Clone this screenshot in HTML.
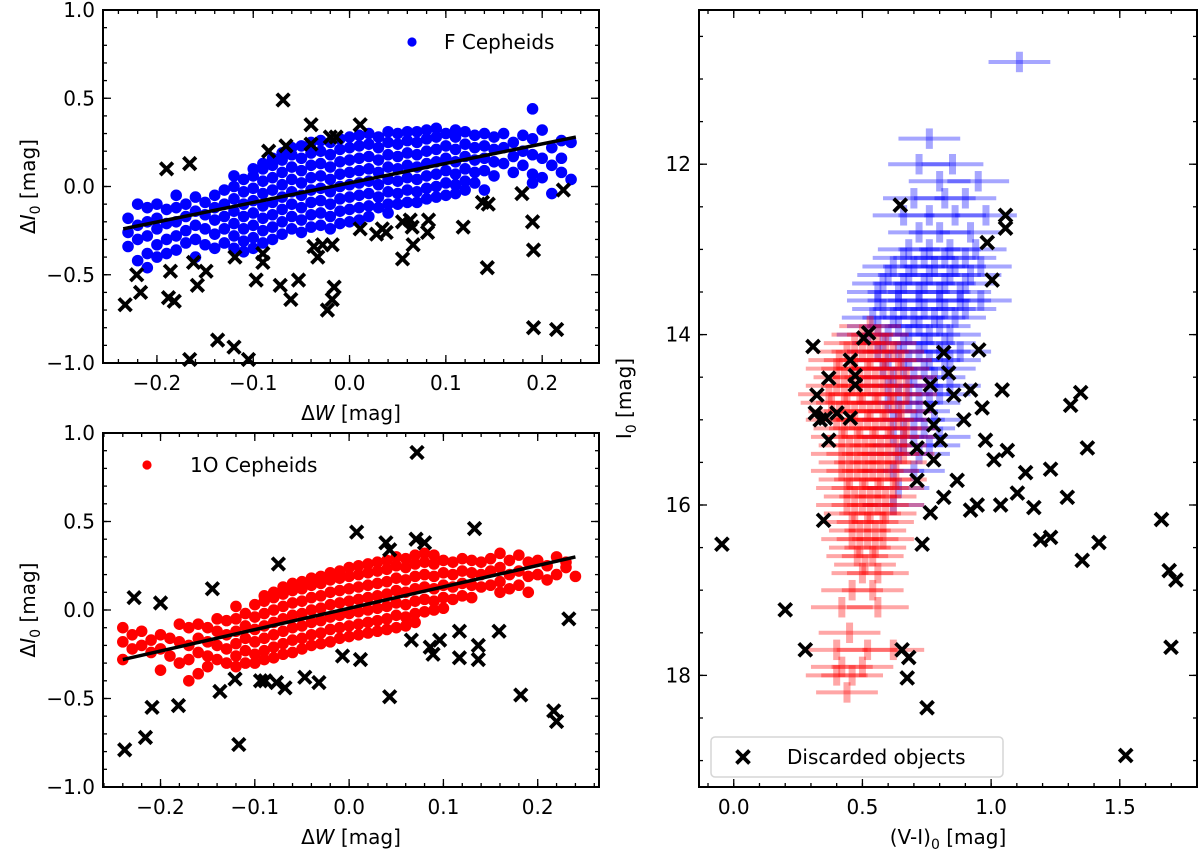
<!DOCTYPE html>
<html><head><meta charset="utf-8"><style>
html,body{margin:0;padding:0;background:#fff;}
svg{display:block;font-family:"DejaVu Sans","Liberation Sans",sans-serif;}
</style></head><body>
<svg id="chart" width="1200" height="854" viewBox="0 0 1200 854" xmlns="http://www.w3.org/2000/svg"></svg>
<script>
// ---------- Panel A: F Cepheids ----------
const fColX = [-0.23,-0.22,-0.21,-0.20,-0.19,-0.18,-0.17,-0.16,-0.15,-0.14,-0.13,-0.12,-0.11,-0.10,-0.09,-0.08,-0.07,-0.06,-0.05,-0.04,-0.03,-0.02,-0.01,0.00,0.01,0.02,0.03,0.04,0.05,0.06,0.07,0.08,0.09,0.10,0.11,0.12,0.13,0.14,0.15,0.16,0.17,0.18,0.19,0.20,0.21,0.22,0.23];
const fColY = [
[-0.18,-0.26,-0.34],[-0.10,-0.22,-0.30,-0.42],[-0.12,-0.20,-0.28,-0.38,-0.46],[-0.10,-0.18,-0.24,-0.33,-0.40],
[-0.13,-0.21,-0.30,-0.38],[-0.05,-0.12,-0.20,-0.28,-0.36],[-0.10,-0.17,-0.25,-0.32],[-0.06,-0.14,-0.22,-0.30,-0.40],
[-0.09,-0.16,-0.24,-0.33],[-0.05,-0.12,-0.19,-0.27,-0.35],[-0.02,-0.10,-0.17,-0.24,-0.32],[0.06,0.00,-0.07,-0.14,-0.21,-0.28,-0.35],
[0.04,-0.03,-0.10,-0.17,-0.24,-0.31,-0.37],[0.10,0.06,-0.01,-0.08,-0.15,-0.22,-0.29,-0.35],[0.13,0.10,0.03,-0.04,-0.11,-0.18,-0.25,-0.32],
[0.16,0.12,0.05,-0.02,-0.09,-0.16,-0.23,-0.30],[0.19,0.15,0.08,0.01,-0.06,-0.13,-0.20,-0.27],[0.22,0.18,0.11,0.04,-0.03,-0.10,-0.17,-0.24],
[0.23,0.16,0.09,0.02,-0.05,-0.12,-0.19,-0.26],[0.25,0.19,0.12,0.05,-0.02,-0.09,-0.16,-0.23],[0.26,0.20,0.13,0.06,-0.01,-0.08,-0.15,-0.22],
[0.25,0.18,0.11,0.04,-0.03,-0.10,-0.17,-0.24],[0.27,0.21,0.14,0.07,0.00,-0.07,-0.14,-0.21],[0.28,0.22,0.15,0.08,0.01,-0.06,-0.13,-0.20],
[0.29,0.23,0.16,0.09,0.02,-0.05,-0.12,-0.19],[0.30,0.24,0.17,0.10,0.03,-0.04,-0.11,-0.17],[0.28,0.22,0.15,0.08,0.01,-0.06,-0.12],
[0.31,0.25,0.18,0.11,0.04,-0.03,-0.10,-0.15],[0.30,0.24,0.17,0.10,0.03,-0.04,-0.10],[0.31,0.26,0.19,0.12,0.05,-0.02,-0.09],
[0.31,0.25,0.18,0.11,0.04,-0.03,-0.09],[0.32,0.27,0.20,0.13,0.06,-0.01,-0.07],[0.33,0.28,0.21,0.14,0.07,0.00,-0.06],[0.30,0.23,0.16,0.09,0.02,-0.05],
[0.32,0.28,0.21,0.14,0.07,0.01,-0.04],[0.31,0.24,0.17,0.10,0.03,-0.02],[0.29,0.22,0.15,0.08,0.02],[0.30,0.23,0.16,0.09,-0.02],
[0.28,0.21,0.14,0.06],[0.30,0.22,0.13],[0.25,0.17,0.08],[0.29,0.20,0.12],[0.27,0.18,0.07,0.02,0.44],
[0.32,0.16,0.05],[0.22,0.12,-0.04],[0.26,0.16,0.08],[0.25,0.04]];
const fFitX = [-0.235, 0.235];
const fFitY = [-0.24, 0.28];
const fBadX = [-0.233,-0.221,-0.217,-0.190,-0.166,-0.186,-0.188,-0.182,-0.162,-0.158,-0.149,-0.137,-0.120,-0.105,-0.166,-0.119,-0.097,-0.090,-0.090,-0.084,-0.072,-0.069,-0.066,-0.061,-0.053,-0.040,-0.040,-0.037,-0.033,-0.028,-0.018,-0.023,-0.018,-0.016,-0.020,-0.014,0.011,0.011,0.028,0.034,0.038,0.055,0.055,0.063,0.065,0.066,0.082,0.081,0.118,0.138,0.144,0.143,0.179,0.190,0.191,0.191,0.215,0.222];
const fBadY = [-0.67,-0.50,-0.60,0.10,0.13,-0.48,-0.63,-0.65,-0.43,-0.56,-0.48,-0.87,-0.91,-0.98,-0.98,-0.40,-0.53,-0.38,-0.43,0.20,-0.56,0.49,0.23,-0.64,-0.53,0.35,0.24,-0.34,-0.40,-0.33,-0.33,-0.70,-0.64,-0.57,0.28,0.28,0.35,-0.24,-0.27,-0.24,-0.26,-0.41,-0.20,-0.19,-0.23,-0.33,-0.19,-0.26,-0.23,-0.09,-0.10,-0.46,-0.04,-0.20,-0.36,-0.80,-0.81,-0.02];

// ---------- Panel B: 1O Cepheids ----------
const oColX = [-0.24,-0.23,-0.22,-0.21,-0.20,-0.19,-0.18,-0.17,-0.16,-0.15,-0.14,-0.13,-0.12,-0.11,-0.10,-0.09,-0.08,-0.07,-0.06,-0.05,-0.04,-0.03,-0.02,-0.01,0.00,0.01,0.02,0.03,0.04,0.05,0.06,0.07,0.08,0.09,0.10,0.11,0.12,0.13,0.14,0.15,0.16,0.17,0.18,0.19,0.20,0.21,0.22,0.23,0.24];
const oColY = [
[-0.10,-0.18,-0.28],[-0.14,-0.22],[-0.20,-0.12],[-0.17,-0.24],[-0.14,-0.22,-0.34],[-0.16,-0.26],[-0.08,-0.18,-0.30],
[-0.10,-0.20,-0.28,-0.40],[-0.08,-0.16,-0.24,-0.36],[-0.10,-0.18,-0.26,-0.32],[-0.05,-0.12,-0.20,-0.28],
[-0.06,-0.14,-0.22,-0.30],[0.02,-0.05,-0.12,-0.19,-0.26,-0.32],[-0.02,-0.09,-0.16,-0.23,-0.30],[0.03,-0.04,-0.11,-0.18,-0.25,-0.30],
[0.08,0.05,-0.02,-0.09,-0.16,-0.23,-0.28],[0.10,0.07,0.00,-0.07,-0.14,-0.21,-0.27],[0.13,0.09,0.02,-0.05,-0.12,-0.19,-0.25],[0.15,0.11,0.04,-0.03,-0.10,-0.17,-0.24],
[0.16,0.12,0.05,-0.02,-0.09,-0.16,-0.22],[0.18,0.14,0.07,0.00,-0.07,-0.14,-0.20],[0.19,0.15,0.08,0.01,-0.06,-0.13,-0.19],[0.21,0.17,0.10,0.03,-0.04,-0.11,-0.18],
[0.22,0.18,0.11,0.04,-0.03,-0.10,-0.16],[0.24,0.19,0.12,0.05,-0.02,-0.09,-0.15],[0.25,0.20,0.13,0.06,-0.01,-0.08,-0.14],[0.26,0.21,0.14,0.07,0.00,-0.07,-0.13],
[0.27,0.22,0.15,0.08,0.01,-0.06,-0.12],[0.28,0.23,0.16,0.09,0.02,-0.05,-0.11],[0.30,0.25,0.18,0.11,0.04,-0.03,-0.10],[0.29,0.24,0.17,0.10,0.03,-0.04,-0.09],
[0.31,0.26,0.19,0.12,0.05,-0.02,-0.07],[0.32,0.27,0.20,0.13,0.06,-0.01],[0.31,0.26,0.19,0.12,0.05,0.00],[0.28,0.21,0.14,0.07,0.01],[0.27,0.20,0.13,0.06],
[0.29,0.22,0.15,0.08],[0.28,0.21,0.14,0.07],[0.27,0.20,0.13],[0.29,0.22,0.14],[0.32,0.24,0.16,0.10],[0.28,0.20,0.12],
[0.31,0.22,0.14],[0.27,0.19,0.10],[0.28,0.20],[0.25,0.17],[0.30,0.20],[0.27,0.24],[0.19]];
const oFitX = [-0.24, 0.24];
const oFitY = [-0.28, 0.30];
const oBadX = [-0.238,-0.216,-0.209,-0.181,-0.228,-0.200,-0.145,-0.137,-0.121,-0.117,-0.094,-0.089,-0.077,-0.068,-0.075,-0.047,-0.032,-0.007,0.008,0.012,0.039,0.043,0.043,0.066,0.071,0.072,0.080,0.086,0.089,0.096,0.117,0.117,0.133,0.137,0.137,0.159,0.182,0.217,0.220,0.233];
const oBadY = [-0.79,-0.72,-0.55,-0.54,0.07,0.04,0.12,-0.46,-0.39,-0.76,-0.40,-0.40,-0.41,-0.44,0.26,-0.38,-0.41,-0.26,0.44,-0.28,0.38,0.34,-0.49,-0.17,0.40,0.89,0.38,-0.21,-0.25,-0.17,-0.12,-0.27,0.46,-0.20,-0.28,-0.12,-0.48,-0.57,-0.63,-0.05];

// ---------- Panel C: CMD ----------
const bRowI = [10.8,11.7,12.0,12.2,12.4,12.6,12.8,13.0,13.1,13.2,13.3,13.4,13.5,13.6,13.7,13.8,13.9,14.0,14.1,14.2,14.3,14.4,14.5,14.6,14.7,14.8,14.9,15.0,15.1,15.2,15.3,15.4,15.6,15.8,16.0];
const bRowX = [[1.11],[0.76],[0.72,0.85],[0.80,0.95],[0.70,0.82,0.90],[0.66,0.76,0.86,0.98],[0.72,0.80,0.92],[0.68,0.76,0.84,0.94],
[0.66,0.74,0.82,0.90],[0.62,0.70,0.78,0.86,0.96],[0.60,0.68,0.76,0.84,0.92],[0.58,0.66,0.74,0.82,0.90],[0.56,0.64,0.72,0.80,0.88],
[0.56,0.64,0.72,0.80,0.88,0.96],[0.58,0.66,0.74,0.82,0.90],[0.54,0.62,0.70,0.78,0.86],[0.56,0.64,0.72,0.80],
[0.52,0.60,0.68,0.76,0.84],[0.58,0.66,0.74,0.82],[0.56,0.64,0.72,0.80,0.88],[0.60,0.68,0.76,0.84],[0.58,0.66,0.74,0.82],
[0.62,0.70,0.78],[0.60,0.68,0.76,0.84],[0.64,0.72,0.80],[0.60,0.68,0.76],[0.64,0.72],
[0.62,0.70,0.78],[0.66,0.74],[0.62,0.70,0.80],[0.66,0.76],[0.64,0.72],[0.62,0.70],[0.64],[0.62]];
const rRowI = [13.9,14.0,14.1,14.2,14.3,14.4,14.5,14.6,14.7,14.8,14.9,15.0,15.1,15.2,15.3,15.4,15.5,15.6,15.7,15.8,15.9,16.0,16.1,16.2,16.3,16.4,16.5,16.6,16.7,16.8,17.0,17.2,17.5,17.7,17.9,18.0,18.2];
const rRowX = [[0.53],[0.50,0.56],[0.47,0.53,0.59],[0.44,0.50,0.56,0.62],[0.41,0.47,0.53,0.59,0.65],[0.40,0.46,0.52,0.58,0.64],[0.43,0.49,0.55,0.61,0.67],
[0.40,0.46,0.52,0.58,0.64],[0.37,0.43,0.49,0.55,0.61,0.67],[0.38,0.44,0.50,0.56,0.62],[0.41,0.47,0.53,0.59,0.65],
[0.40,0.46,0.52,0.58,0.64],[0.43,0.49,0.55,0.61,0.67],[0.42,0.48,0.54,0.60,0.66],[0.45,0.51,0.57,0.63],[0.42,0.48,0.54,0.60,0.66],[0.45,0.51,0.57,0.63],
[0.42,0.48,0.54,0.60],[0.45,0.51,0.57,0.63],[0.44,0.50,0.56,0.62],[0.47,0.53,0.59],
[0.44,0.50,0.56,0.62],[0.47,0.53,0.59],[0.46,0.52,0.58],[0.49,0.55],[0.46,0.52,0.58],[0.49,0.55],[0.48,0.54],[0.51],[0.50,0.56],[0.46,0.54],[0.42,0.56],[0.45],[0.40,0.52,0.62],[0.42,0.50],[0.40,0.46],[0.44]];
const cmdXerr = 0.12;
const cmdYerr = 0.12;
const cBadX = [-0.046,0.200,0.278,0.308,0.369,0.323,0.317,0.336,0.356,0.369,0.401,0.349,0.453,0.472,0.472,0.453,0.505,0.524,0.647,0.654,0.680,0.674,0.751,0.732,0.712,0.712,0.764,0.764,0.816,0.835,0.777,0.803,0.777,0.764,0.816,0.855,0.894,0.920,0.952,0.965,0.868,0.920,0.946,0.978,1.011,1.037,1.043,0.985,1.004,1.056,1.056,1.063,1.102,1.134,1.166,1.192,1.231,1.231,1.296,1.309,1.348,1.374,1.354,1.419,1.662,1.692,1.718,1.699,1.523];
const cBadI = [16.46,17.23,17.70,14.14,14.51,14.71,14.92,15.00,14.98,15.24,14.92,16.18,14.30,14.48,14.59,14.98,14.04,13.98,12.48,17.70,17.79,18.03,18.38,16.46,15.33,15.71,14.59,14.86,14.21,14.45,15.06,15.24,15.47,16.09,15.91,14.71,15.00,14.65,14.18,14.86,15.71,16.06,16.00,15.24,15.47,16.00,14.65,12.92,13.36,12.60,12.75,15.36,15.86,15.62,16.03,16.41,16.38,15.58,15.91,14.83,14.68,15.33,16.65,16.44,16.17,16.77,16.88,17.67,18.94];

const xTicksA = ["−0.2","−0.1","0.0","0.1","0.2"];
const yTicksA = ["−1.0","−0.5","0.0","0.5","1.0"];
const xTicksC = ["0.0","0.5","1.0","1.5"];
const yTicksC = ["12","14","16","18"];

const NS="http://www.w3.org/2000/svg";
const svg=document.getElementById('chart');
function mk(tag,attrs,parent){const e=document.createElementNS(NS,tag);for(const k in attrs)e.setAttribute(k,attrs[k]);(parent||svg).appendChild(e);return e;}

function makePanel(name,L,R,T,B,x0,x1,y0,y1){
  const g=mk('g',{});
  
  
  const sx=v=>L+(v-x0)/(x1-x0)*(R-L);
  const sy=v=>B-(v-y0)/(y1-y0)*(B-T);
  return {g,sx,sy,L,R,T,B};
}
function frame(p,xmaj,xmin,ymaj,ymin,xlab,ylab,xfmt,yfmt){
  const g=p.g;
  function tickX(v,len){const x=p.sx(v);if(x<p.L-0.5||x>p.R+0.5)return;
    mk('line',{x1:x,x2:x,y1:p.B,y2:p.B-len,stroke:'#000','stroke-width':1.3},g);
    mk('line',{x1:x,x2:x,y1:p.T,y2:p.T+len,stroke:'#000','stroke-width':1.3},g);}
  function tickY(v,len){const y=p.sy(v);if(y<p.T-0.5||y>p.B+0.5)return;
    mk('line',{x1:p.L,x2:p.L+len,y1:y,y2:y,stroke:'#000','stroke-width':1.3},g);
    mk('line',{x1:p.R,x2:p.R-len,y1:y,y2:y,stroke:'#000','stroke-width':1.3},g);}
  xmin.forEach(v=>tickX(v,4));ymin.forEach(v=>tickY(v,4));
  xmaj.forEach((v,i)=>{tickX(v,8);const t=mk('text',{x:p.sx(v),y:p.B+27,'text-anchor':'middle','font-size':20},g);t.textContent=xfmt[i];
    
    });
  ymaj.forEach((v,i)=>{tickY(v,8);const t=mk('text',{x:p.L-8,y:p.sy(v)+7,'text-anchor':'end','font-size':20},g);t.textContent=yfmt[i];
    
    });
  const fr=mk('rect',{x:p.L,y:p.T,width:p.R-p.L,height:p.B-p.T,fill:'none',stroke:'#000','stroke-width':2},g);
  
  
  const xl=mk('text',{x:(p.L+p.R)/2,y:p.B+57,'text-anchor':'middle','font-size':20},g);xl.innerHTML=xlab;
  
  
  const cy=(p.T+p.B)/2, cx=p.L-68;
  const yl=mk('text',{x:cx,y:cy,'text-anchor':'middle','font-size':20,transform:`rotate(-90 ${cx} ${cy})`},g);yl.innerHTML=ylab;
  
  
}
function cross(g,x,y,s){
  const c=mk('path',{d:`M${x-s} ${y-s}L${x+s} ${y+s}M${x-s} ${y+s}L${x+s} ${y-s}`,stroke:'#000','stroke-width':3.8,fill:'none'},g);
  
  
}
function range(a,b,s){const r=[];for(let v=a;v<=b+1e-9;v+=s)r.push(+v.toFixed(4));return r;}

// Panel A
const pA=makePanel('f-cepheids-panel',103,599,10,363,-0.256,0.259,-1,1);
fColX.forEach((x,i)=>fColY[i].forEach(y=>{const c=mk('circle',{cx:pA.sx(x),cy:pA.sy(y),r:5.8,fill:'#0000ff'},pA.g);
  
  }));
fBadX.forEach((x,i)=>cross(pA.g,pA.sx(x),pA.sy(fBadY[i]),6.3));
const fa=mk('line',{x1:pA.sx(fFitX[0]),y1:pA.sy(fFitY[0]),x2:pA.sx(fFitX[1]),y2:pA.sy(fFitY[1]),stroke:'#000','stroke-width':3.5},pA.g);


frame(pA,[-0.2,-0.1,0,0.1,0.2],range(-0.24,0.24,0.02),[-1,-0.5,0,0.5,1],range(-1,1,0.1),'Δ<tspan font-style="italic">W</tspan> [mag]','Δ<tspan font-style="italic">I</tspan><tspan font-size="14" dy="5">0</tspan><tspan dy="-5"> [mag]</tspan>',xTicksA,yTicksA);
const lgA=mk('g',{},pA.g);


mk('circle',{cx:412,cy:42,r:4.6,fill:'#0000ff'},lgA);
mk('text',{x:444,y:49,'font-size':20},lgA).textContent='F Cepheids';

// Panel B
const pB=makePanel('1o-cepheids-panel',103,599,433,787,-0.261,0.265,-1,1);
oColX.forEach((x,i)=>oColY[i].forEach(y=>{const c=mk('circle',{cx:pB.sx(x),cy:pB.sy(y),r:5.8,fill:'#ff0000'},pB.g);
  
  }));
oBadX.forEach((x,i)=>cross(pB.g,pB.sx(x),pB.sy(oBadY[i]),6.3));
const fb=mk('line',{x1:pB.sx(oFitX[0]),y1:pB.sy(oFitY[0]),x2:pB.sx(oFitX[1]),y2:pB.sy(oFitY[1]),stroke:'#000','stroke-width':3.5},pB.g);


frame(pB,[-0.2,-0.1,0,0.1,0.2],range(-0.26,0.26,0.02),[-1,-0.5,0,0.5,1],range(-1,1,0.1),'Δ<tspan font-style="italic">W</tspan> [mag]','Δ<tspan font-style="italic">I</tspan><tspan font-size="14" dy="5">0</tspan><tspan dy="-5"> [mag]</tspan>',xTicksA,yTicksA);
const lgB=mk('g',{},pB.g);


mk('circle',{cx:147,cy:465,r:4.6,fill:'#ff0000'},lgB);
mk('text',{x:190,y:472,'font-size':20},lgB).textContent='1O Cepheids';

// Panel C (inverted y)
const pC=makePanel('cmd-panel',699,1197,10,787,-0.135,1.80,19.31,10.19);
function errPt(x,I,col,name){
  const g=mk('g',{stroke:col,'stroke-opacity':0.35,fill:'none'},pC.g);
  
  
  mk('line',{x1:pC.sx(x-cmdXerr),x2:pC.sx(x+cmdXerr),y1:pC.sy(I),y2:pC.sy(I),'stroke-width':4},g);
  mk('line',{x1:pC.sx(x),x2:pC.sx(x),y1:pC.sy(I-cmdYerr),y2:pC.sy(I+cmdYerr),'stroke-width':7},g);
}
bRowI.forEach((I,i)=>bRowX[i].forEach(x=>errPt(x,I,'#0000ff','f-cepheid-errorbar')));
rRowI.forEach((I,i)=>rRowX[i].forEach(x=>errPt(x,I,'#ff0000','1o-cepheid-errorbar')));
cBadX.forEach((x,i)=>cross(pC.g,pC.sx(x),pC.sy(cBadI[i]),6.5));
frame(pC,[0,0.5,1,1.5],range(-0.1,1.8,0.1),[12,14,16,18],range(10.5,19,0.5),'(V-I)<tspan font-size="14" dy="5">0</tspan><tspan dy="-5"> [mag]</tspan>','I<tspan font-size="14" dy="5">0</tspan><tspan dy="-5"> [mag]</tspan>',xTicksC,yTicksC);
const lgC=mk('g',{},pC.g);


mk('rect',{x:711,y:737,width:292,height:40,rx:4,fill:'#fff','fill-opacity':0.85,stroke:'#d6d6d6','stroke-width':1.5},lgC);
cross(lgC,743,757,6.5);
mk('text',{x:787,y:764,'font-size':20},lgC).textContent='Discarded objects';
</script>
</body></html>
